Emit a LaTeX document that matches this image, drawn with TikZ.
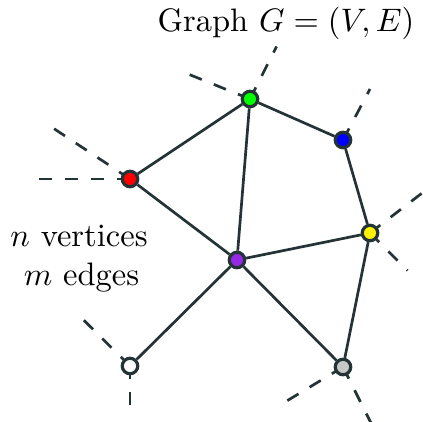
\documentclass[tikz,border=0pt]{standalone}
\usetikzlibrary{backgrounds}
\definecolor{edgecol}{RGB}{36,52,54}
\definecolor{vpurple}{RGB}{150,40,230}
\definecolor{vgray}{RGB}{200,200,200}
\tikzset{
  vertex/.style={circle, draw=edgecol, line width=3.2pt, minimum size=15.5pt, inner sep=0pt},
  edgeline/.style={draw=edgecol, line width=2.7pt},
  stub/.style={draw=edgecol, line width=2.7pt, dash pattern=on 13pt off 13pt},
  lbl/.style={anchor=base, inner sep=0pt, scale=3.25, transform shape=false}
}
\begin{document}
\begin{tikzpicture}[x=1pt,y=-1pt]
\useasboundingbox (0,0) rectangle (423,421);
\clip (0,0) rectangle (423,421);
% vertices
\node[vertex, fill=green] (g) at (250,99) {};
\node[vertex, fill=blue] (b) at (343,140) {};
\node[vertex, fill=red] (r) at (130,179) {};
\node[vertex, fill=yellow] (y) at (370,233) {};
\node[vertex, fill=vpurple] (p) at (237,260) {};
\node[vertex, fill=white] (w) at (130,366) {};
\node[vertex, fill=vgray] (s) at (343,367) {};
% free ends of the dangling edges
\coordinate (g1) at (276.6,46.5);
\coordinate (g2) at (188,74);
\coordinate (b1) at (370,89);
\coordinate (r1) at (37,179);
\coordinate (r2) at (51.5,127);
\coordinate (y1) at (421.6,193.4);
\coordinate (y2) at (407.5,270.5);
\coordinate (w1) at (82.6,319);
\coordinate (w2) at (130,406);
\coordinate (s1) at (286.7,401);
\coordinate (s2) at (373,427);
\begin{scope}[on background layer]
  \path[stub] (g.center) -- (g1);
  \path[stub] (g.center) -- (g2);
  \path[stub] (b.center) -- (b1);
  \path[stub] (r.center) -- (r1);
  \path[stub] (r.center) -- (r2);
  \path[stub] (y.center) -- (y1);
  \path[stub] (y.center) -- (y2);
  \path[stub] (w.center) -- (w1);
  \path[stub] (w.center) -- (w2);
  \path[stub] (s.center) -- (s1);
  \path[stub] (s.center) -- (s2);
  \path[edgeline] (r) -- (g);
  \path[edgeline] (g) -- (b);
  \path[edgeline] (g) -- (p);
  \path[edgeline] (r) -- (p);
  \path[edgeline] (b) -- (y);
  \path[edgeline] (p) -- (y);
  \path[edgeline] (y) -- (s);
  \path[edgeline] (p) -- (s);
  \path[edgeline] (p) -- (w);
\end{scope}
% labels
\node[lbl] (title) at (286,31.5) {Graph $G=(V,E)$};
\node[lbl] (nv) at (79,246.5) {$n$ vertices};
\node[lbl] (me) at (81.5,285) {$m$ edges};
\end{tikzpicture}
\end{document}
